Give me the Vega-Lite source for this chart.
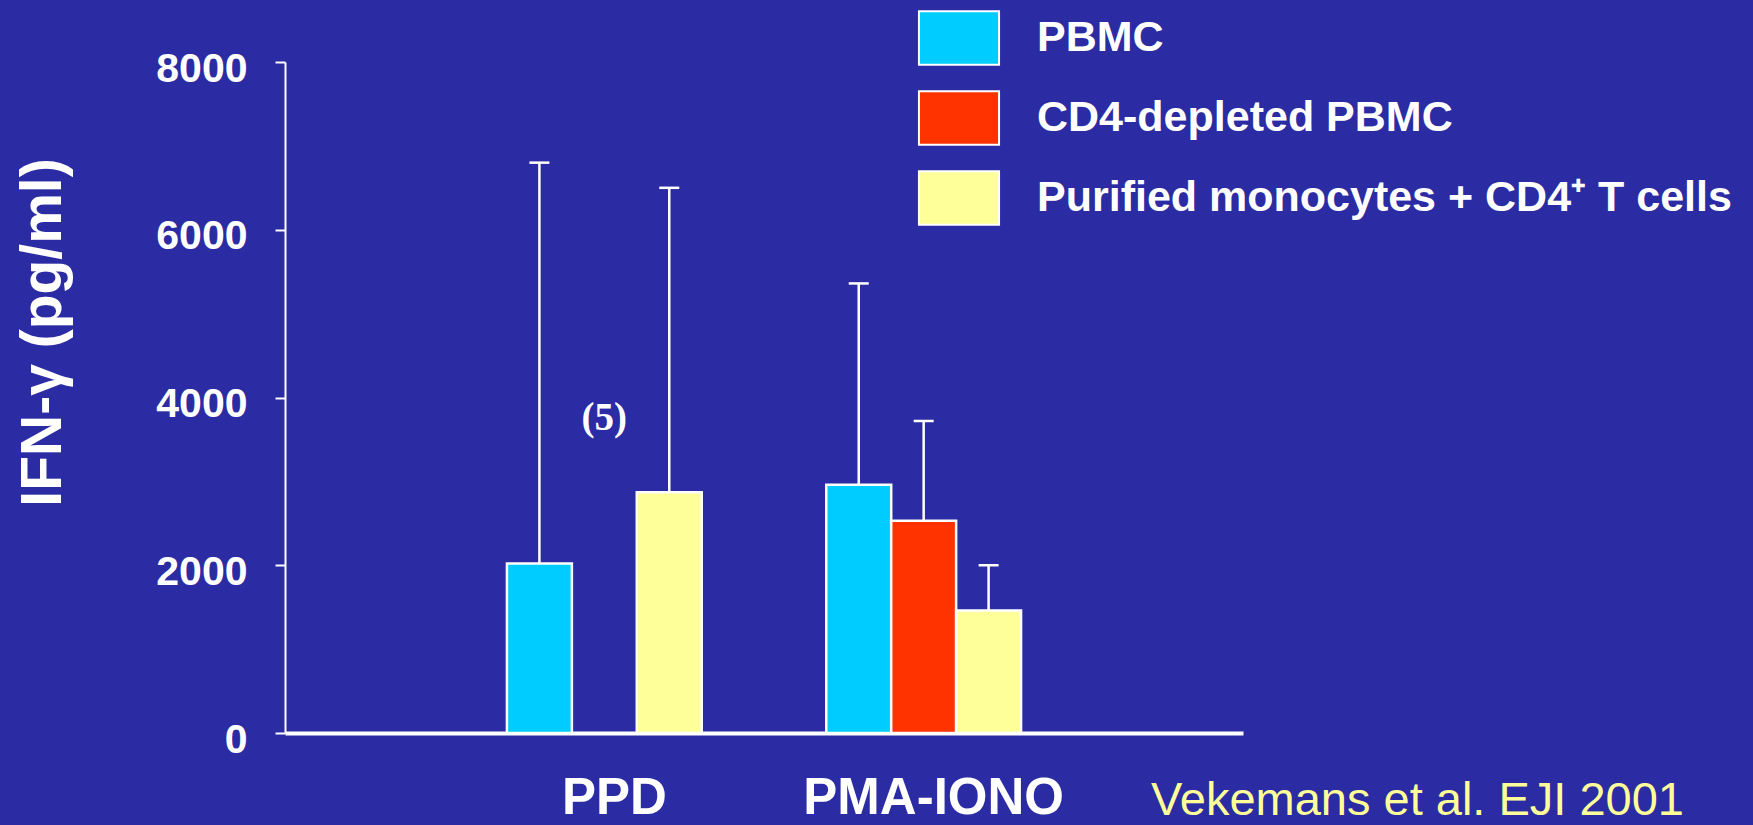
{
  "$schema": "https://vega.github.io/schema/vega-lite/v6.json",
  "width": 958,
  "height": 671,
  "autosize": {"type": "none"},
  "padding": {"left": 285, "top": 62, "right": 510, "bottom": 92},
  "background": "#2B2BA4",
  "config": {
    "view": {"stroke": null},
    "font": "Liberation Sans",
    "axisY": {
      "domainColor": "white", "domainWidth": 2,
      "tickColor": "white", "tickWidth": 2, "tickSize": 10,
      "labelColor": "white", "labelFont": "Liberation Sans", "labelFontWeight": "bold", "labelFontSize": 41,
      "labelPadding": 28, "labelOffset": 7, "labelFlush": false, "labelOverlap": false,
      "grid": false,
      "titleColor": "white", "titleFont": "Liberation Sans", "titleFontSize": 57, "titleFontWeight": "bold",
      "titleX": -225, "titleY": 270, "titleAngle": -90, "titleAlign": "center", "titleBaseline": "alphabetic"
    },
    "axisX": {
      "domainColor": "white", "domainWidth": 4,
      "ticks": false, "tickSize": 0,
      "labelColor": "white", "labelFont": "Liberation Sans", "labelFontWeight": "bold", "labelFontSize": 51,
      "labelBaseline": "alphabetic", "labelPadding": 80, "labelOffset": 10, "labelAngle": 0, "labelLimit": 1000,
      "grid": false
    }
  },
  "title": {
    "text": "Vekemans et al. EJI 2001",
    "orient": "bottom", "anchor": "start", "frame": "group",
    "dx": 866, "offset": 0, "dy": -45,
    "color": "#FFFF99", "fontSize": 47, "fontWeight": "normal", "font": "Liberation Sans",
    "baseline": "top"
  },
  "data": {
    "values": [
      {"stim": "PPD", "cells": "PBMC", "mean": 2020, "upper": 6800},
      {"stim": "PPD", "cells": "Purified monocytes + CD4⁺ T cells", "mean": 2870, "upper": 6500},
      {"stim": "PMA-IONO", "cells": "PBMC", "mean": 2960, "upper": 5360},
      {"stim": "PMA-IONO", "cells": "CD4-depleted PBMC", "mean": 2530, "upper": 3720},
      {"stim": "PMA-IONO", "cells": "Purified monocytes + CD4⁺ T cells", "mean": 1460, "upper": 2000}
    ]
  },
  "layer": [
    {
      "mark": {"type": "bar", "stroke": "white", "strokeWidth": 2.5, "opacity": 1},
      "encoding": {
        "x": {"field": "stim", "type": "nominal", "sort": ["PPD", "PMA-IONO"],
              "scale": {"domain": ["PPD", "PMA-IONO"], "paddingInner": 0.39, "paddingOuter": 0.695},
              "axis": {"title": null}},
        "xOffset": {"field": "cells", "type": "nominal",
                    "scale": {"domain": ["PBMC", "CD4-depleted PBMC", "Purified monocytes + CD4⁺ T cells"], "paddingInner": 0, "paddingOuter": 0}},
        "y": {"field": "mean", "type": "quantitative",
              "scale": {"domain": [0, 8000], "nice": false, "zero": true},
              "axis": {"values": [0, 2000, 4000, 6000, 8000], "format": "d", "title": "IFN-γ (pg/ml)"}},
        "color": {"field": "cells", "type": "nominal",
                  "scale": {"domain": ["PBMC", "CD4-depleted PBMC", "Purified monocytes + CD4⁺ T cells"],
                            "range": ["#00CCFF", "#FF3300", "#FFFF99"]},
                  "legend": {
                    "orient": "none", "legendX": 646, "legendY": -52, "title": null, "padding": 0,
                    "symbolType": "M-1.5,-1H1.5V1H-1.5Z", "symbolSize": 2852,
                    "symbolStrokeColor": "white", "symbolStrokeWidth": 2, "symbolOpacity": 1,
                    "labelFont": "Liberation Sans", "labelFontSize": 43, "labelFontWeight": "bold", "labelColor": "white",
                    "labelOffset": 50, "labelLimit": 1000, "rowPadding": 18
                  }}
      }
    },
    {
      "mark": {"type": "rule", "color": "white", "strokeWidth": 2.5},
      "encoding": {
        "x": {"field": "stim", "type": "nominal", "sort": ["PPD", "PMA-IONO"]},
        "xOffset": {"field": "cells", "type": "nominal"},
        "y": {"field": "mean", "type": "quantitative", "title": "IFN-γ (pg/ml)"},
        "y2": {"field": "upper"}
      }
    },
    {
      "mark": {"type": "tick", "orient": "horizontal", "size": 20, "thickness": 2.5, "color": "white", "opacity": 1},
      "encoding": {
        "x": {"field": "stim", "type": "nominal", "sort": ["PPD", "PMA-IONO"]},
        "xOffset": {"field": "cells", "type": "nominal"},
        "y": {"field": "upper", "type": "quantitative", "title": "IFN-γ (pg/ml)"}
      }
    },
    {
      "data": {"values": [{"stim": "PPD", "note": "(5)", "pos": 3610}]},
      "mark": {"type": "text", "font": "Liberation Serif", "fontWeight": "bold", "fontSize": 39, "color": "white", "align": "center", "baseline": "alphabetic"},
      "encoding": {
        "x": {"field": "stim", "type": "nominal", "sort": ["PPD", "PMA-IONO"]},
        "y": {"field": "pos", "type": "quantitative", "title": "IFN-γ (pg/ml)"},
        "text": {"field": "note"}
      }
    }
  ]
}
